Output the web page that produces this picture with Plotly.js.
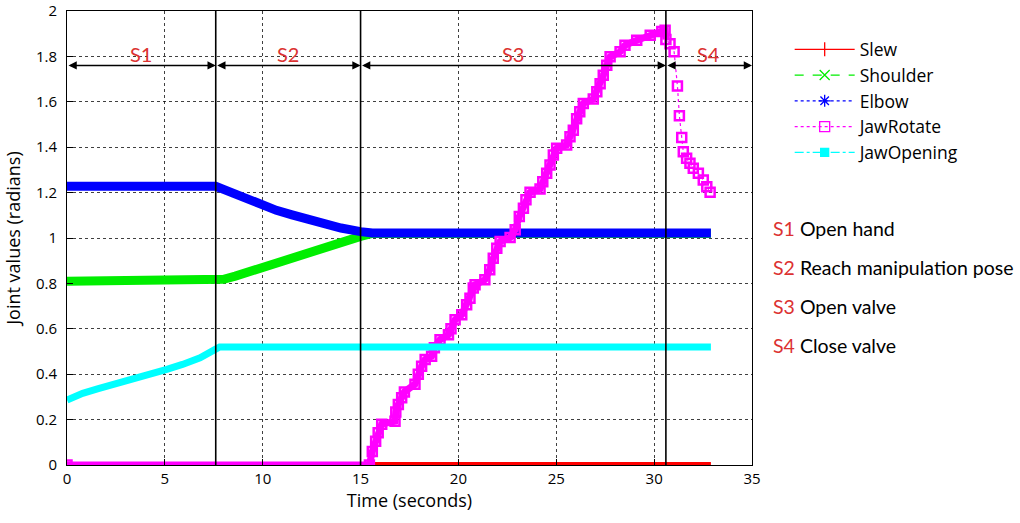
<!DOCTYPE html>
<html>
<head>
<meta charset="utf-8">
<script src="https://cdn.plot.ly/plotly-3.0.1.min.js"></script>
<style>html,body{margin:0;padding:0;background:#fff;}#chart{width:1020px;height:523px;}</style>
</head>
<body>
<div id="chart"></div>
<script>
// ---- data (time in s, joint value in rad) ----
var seriesNames = ['Slew', 'Shoulder', 'Elbow', 'JawRotate', 'JawOpening'];

var slewPts = [[0, 0], [32.9, 0]];

var shoulderPts = [[0, 0.81], [7.6, 0.81], [8.0, 0.818], [8.6, 0.832], [9.3, 0.852],
  [10, 0.872], [10.7, 0.892], [11.5, 0.913], [12.2, 0.933], [13, 0.953], [14, 0.983],
  [15, 1.007], [15.6, 1.02], [32.9, 1.02]];

var elbowPts = [[0, 1.228], [7.6, 1.228], [8.0, 1.214], [8.6, 1.193], [9.3, 1.168],
  [10, 1.143], [10.7, 1.122], [11.5, 1.102], [12.2, 1.084], [13, 1.066], [14, 1.044],
  [15, 1.028], [15.6, 1.022], [32.9, 1.022]];

var jawRotatePts = [[0, 0], [15.45, 0], [15.6, 0.06], [15.77, 0.105], [15.9, 0.142],
  [16.08, 0.18], [16.76, 0.193], [16.8, 0.234], [16.93, 0.267], [17.1, 0.296],
  [17.24, 0.322], [17.78, 0.356], [17.95, 0.4], [18.12, 0.435], [18.3, 0.465],
  [18.63, 0.479], [18.77, 0.516], [19.06, 0.552], [19.49, 0.574], [19.62, 0.6],
  [19.83, 0.64], [20.17, 0.662], [20.42, 0.706], [20.59, 0.735], [20.76, 0.78],
  [20.85, 0.794], [21.35, 0.816], [21.6, 0.86], [21.78, 0.911], [21.96, 0.955],
  [22.13, 0.985], [22.64, 1.002], [22.9, 1.036], [23.11, 1.095], [23.32, 1.131],
  [23.45, 1.168], [23.66, 1.201], [24.17, 1.216], [24.31, 1.248], [24.51, 1.285],
  [24.68, 1.322], [24.85, 1.366], [25.02, 1.395], [25.53, 1.41], [25.7, 1.446],
  [25.87, 1.475], [26.04, 1.525], [26.2, 1.556], [26.38, 1.593], [26.89, 1.612],
  [27.07, 1.644], [27.24, 1.68], [27.4, 1.717], [27.58, 1.761], [27.75, 1.798],
  [28.26, 1.82], [28.51, 1.849], [29.11, 1.871], [29.8, 1.893], [30.39, 1.91],
  [30.56, 1.915], [30.6, 1.875], [30.81, 1.856], [31.02, 1.82], [31.19, 1.67],
  [31.29, 1.538], [31.41, 1.443], [31.49, 1.38], [31.66, 1.351], [31.83, 1.329],
  [32.0, 1.307], [32.26, 1.285], [32.51, 1.256], [32.69, 1.226], [32.86, 1.201]];

var jawOpeningPts = [[0, 0.286], [0.8, 0.316], [1.6, 0.336], [2.5, 0.356], [3.4, 0.378],
  [4.2, 0.399], [5.1, 0.421], [5.9, 0.443], [6.8, 0.472], [7.55, 0.508], [7.8, 0.52],
  [32.9, 0.52]];

// axis ticks
var xTicks = [0, 5, 10, 15, 20, 25, 30, 35];
var yTicks = [0, 0.2, 0.4, 0.6, 0.8, 1, 1.2, 1.4, 1.6, 1.8, 2];
var yTickText = ['0', '0.2', '0.4', '0.6', '0.8', '1', '1.2', '1.4', '1.6', '1.8', '2'];

// phase boundaries (s) and phase descriptions
var phaseBounds = [0, 7.6, 15.0, 30.6, 35];
var phaseCodes = ['S1', 'S2', 'S3', 'S4'];
var phaseNames = ['Open hand', 'Reach manipulation pose', 'Open valve', 'Close valve'];
var arrowLevel = 1.76;
var labelLevel = 1.81;

// ---- styling ----
var colors = ['#ff0000', '#00ee00', '#0000ff', '#ff00ff', '#00ffff'];
var bandWidths = [6, 9, 9, 7, 7];
var dashes = ['solid', 'dash', '3px,3px', 'dot', 'dashdot'];
var symbols = ['line-ns-open', 'x-thin-open', 'asterisk-open', 'square-open', 'square'];
var redLabel = '#dc3232';
var FONT = 'Open Sans, Lato, sans-serif';

function xs(p) { return p.map(function (d) { return d[0]; }); }
function ys(p) { return p.map(function (d) { return d[1]; }); }

var allPts = [slewPts, shoulderPts, elbowPts, jawRotatePts, jawOpeningPts];
var traces = [];

allPts.forEach(function (pts, i) {
  if (i === 3) {
    // JawRotate: dense band during S1-S3, then individual markers
    var dense = pts.filter(function (d) { return d[0] <= phaseBounds[3]; });
    traces.push({
      x: xs(dense), y: ys(dense), type: 'scatter', mode: 'lines',
      line: { color: colors[i], width: bandWidths[i] }, showlegend: false, hoverinfo: 'skip'
    });
    traces.push({
      x: xs(pts), y: ys(pts), type: 'scatter', mode: 'lines+markers',
      line: { color: colors[i], width: 1.2, dash: 'dot' },
      marker: { symbol: 'square-open', size: 9, color: colors[i], line: { width: 2.5, color: colors[i] } },
      showlegend: false, hoverinfo: 'skip'
    });
  } else {
    traces.push({
      x: xs(pts), y: ys(pts), type: 'scatter', mode: 'lines',
      line: { color: colors[i], width: bandWidths[i] }, showlegend: false, hoverinfo: 'skip'
    });
  }
});

// legend entries
seriesNames.forEach(function (name, i) {
  traces.push({
    x: [null], y: [null], type: 'scatter', mode: 'lines+markers', name: name,
    line: { color: colors[i], width: 1.2, dash: dashes[i] },
    marker: { symbol: symbols[i], size: i === 4 ? 8 : 10, color: colors[i], line: { width: 1.3, color: colors[i] } }
  });
});

var shapes = [];
var annotations = [];
for (var k = 1; k < phaseBounds.length - 1; k++) {
  shapes.push({
    type: 'line', xref: 'x', yref: 'y', x0: phaseBounds[k], x1: phaseBounds[k], y0: 0, y1: 2,
    line: { color: '#000', width: 1.6 }
  });
}
for (var j = 0; j < phaseCodes.length; j++) {
  annotations.push({
    x: phaseBounds[j + 1], y: arrowLevel, ax: phaseBounds[j], ay: arrowLevel,
    xref: 'x', yref: 'y', axref: 'x', ayref: 'y', text: '', showarrow: true,
    arrowhead: 2, startarrowhead: 2, arrowside: 'end+start', arrowsize: 1.1, startarrowsize: 1.1,
    arrowwidth: 1.5, arrowcolor: '#000', standoff: 0, startstandoff: 0
  });
  annotations.push({
    x: (phaseBounds[j] + phaseBounds[j + 1]) / 2, y: labelLevel, xref: 'x', yref: 'y',
    text: phaseCodes[j], showarrow: false, xanchor: 'center', yanchor: 'middle',
    font: { family: 'Lato, sans-serif', size: 20, color: redLabel }
  });
  annotations.push({
    x: 1.0277, y: 0.521 - j * 0.0859, xref: 'paper', yref: 'paper', xanchor: 'left', yanchor: 'middle',
    showarrow: false, align: 'left',
    text: '<span style="color:' + redLabel + '">' + phaseCodes[j] + '</span> ' + phaseNames[j],
    font: { family: 'Lato, sans-serif', size: 19.5, color: '#000' }
  });
}

var axisCommon = {
  showline: true, mirror: true, linecolor: '#000', linewidth: 1,
  ticks: 'inside', ticklen: 6, tickcolor: '#000', tickwidth: 1,
  showgrid: true, gridcolor: 'rgba(0,0,0,0.75)', griddash: 'dot', gridwidth: 1,
  zeroline: false, ticklabeloverflow: 'allow',
  tickfont: { family: FONT, size: 15, color: '#000' }
};

var layout = {
  width: 1020, height: 523,
  margin: { l: 67, r: 268, t: 11, b: 58 },
  paper_bgcolor: '#fff', plot_bgcolor: '#fff',
  xaxis: Object.assign({}, axisCommon, {
    range: [0, 35], tickmode: 'array', tickvals: xTicks,
    title: { text: 'Time (seconds)', font: { family: FONT, size: 18, color: '#000' }, standoff: 6 }
  }),
  yaxis: Object.assign({}, axisCommon, {
    range: [0, 2], tickmode: 'array', tickvals: yTicks, ticktext: yTickText, ticklabelstandoff: 6,
    title: { text: 'Joint values (radians)', font: { family: FONT, size: 18, color: '#000' }, standoff: 10 }
  }),
  showlegend: true,
  legend: {
    x: 1.055, y: 0.955, xanchor: 'left', yanchor: 'top',
    bgcolor: 'rgba(0,0,0,0)', itemwidth: 60,
    font: { family: FONT, size: 17.5, color: '#000' },
    tracegroupgap: 0
  },
  shapes: shapes,
  annotations: annotations
};

Plotly.newPlot('chart', traces, layout, { displayModeBar: false, staticPlot: true });
</script>
</body>
</html>
